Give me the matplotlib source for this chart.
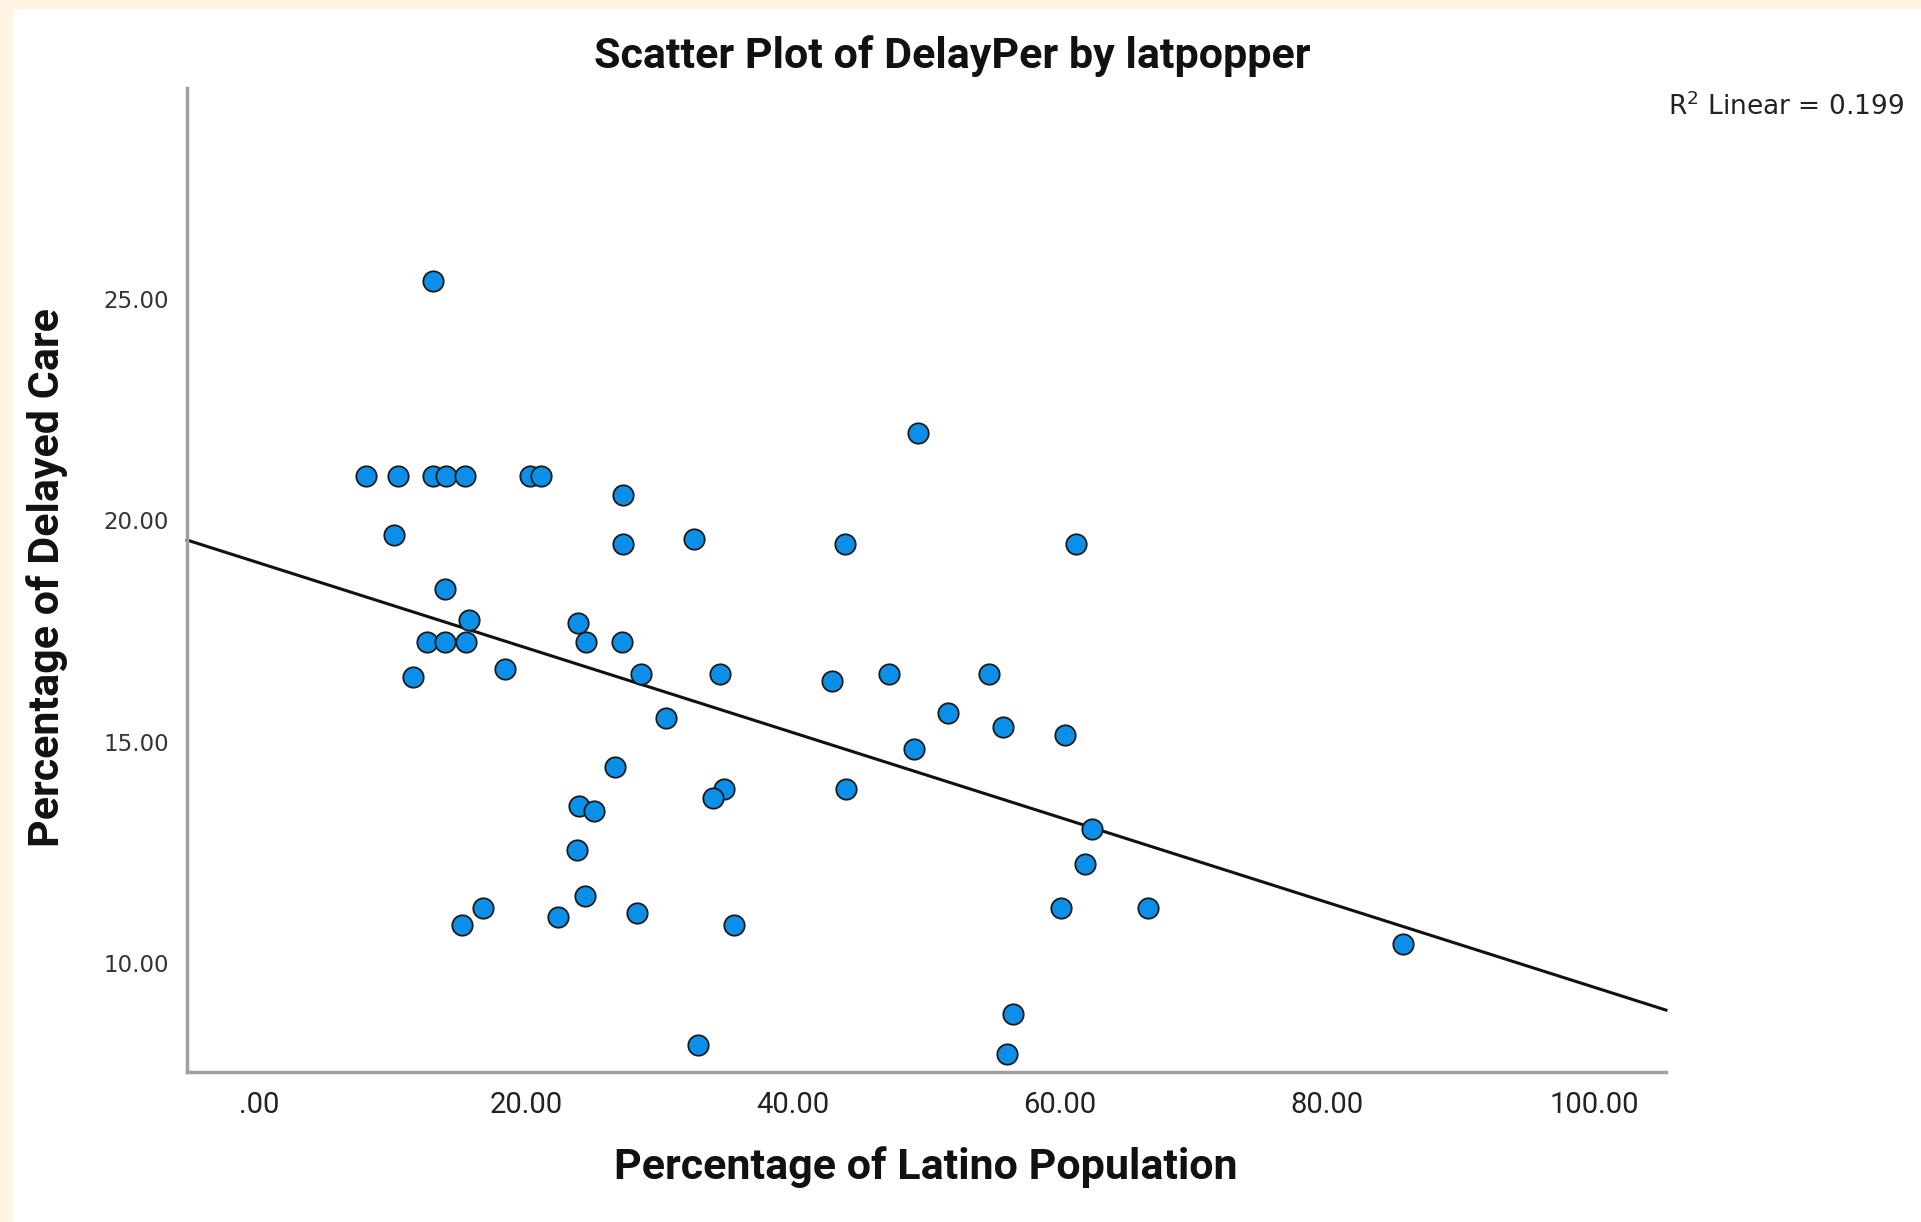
import numpy as np
import matplotlib
matplotlib.use("Agg")
import matplotlib.pyplot as plt
from matplotlib.patches import Rectangle

# === Data: latino population % vs delayed care % ===
latpop = [8.0, 10.4, 13.0, 13.0, 14.0, 15.4, 20.3, 21.1,
          10.1, 27.3, 27.3, 32.6, 43.9, 61.2, 49.4,
          13.9, 15.7, 23.9, 12.6, 13.9, 15.5, 24.5, 27.2,
          11.5, 18.4, 28.6, 34.5, 42.9, 47.2, 54.7,
          30.5, 51.6, 55.7, 60.4, 49.1, 26.7, 34.8, 34.0, 44.0,
          24.0, 25.1, 62.4, 23.8, 61.9, 24.4, 16.8, 15.2, 22.4,
          28.3, 35.6, 60.1, 66.6, 85.7, 56.5, 32.9, 56.0]
delayper = [21.0, 21.0, 25.4, 21.0, 21.0, 21.0, 21.0, 21.0,
            19.66, 20.57, 19.46, 19.57, 19.46, 19.46, 21.96,
            18.44, 17.75, 17.67, 17.25, 17.25, 17.25, 17.25, 17.25,
            16.45, 16.64, 16.53, 16.53, 16.36, 16.53, 16.53,
            15.53, 15.64, 15.34, 15.15, 14.84, 14.43, 13.93, 13.73, 13.93,
            13.54, 13.43, 13.02, 12.55, 12.24, 11.52, 11.24, 10.86, 11.05,
            11.13, 10.86, 11.24, 11.24, 10.44, 8.84, 8.14, 7.95]

x_ticks = [0, 20, 40, 60, 80, 100]
y_ticks = [10, 15, 20, 25]
r2_label = 0.199

xlim = (-5.4, 105.4)
ylim = (7.54, 29.76)

W, H = 1921, 1222
fig = plt.figure(figsize=(W / 100, H / 100), dpi=100)
fig.patch.set_facecolor("white")

# cream border strips on the left and top
fig.patches.append(Rectangle((0, 0), 12 / W, 1, transform=fig.transFigure,
                             color="#fff3e1", zorder=0))
fig.patches.append(Rectangle((0, 1 - 8 / H), 1, 8 / H, transform=fig.transFigure,
                             color="#fff3e1", zorder=0))

ax = fig.add_axes([187 / W, 150 / H, (1666 - 187) / W, (1134 - 150) / H])
ax.set_xlim(*xlim)
ax.set_ylim(*ylim)

x = np.array(latpop)
y = np.array(delayper)

# fit line
slope, intercept = np.polyfit(x, y, 1)
xx = np.array(xlim)
ax.plot(xx, intercept + slope * xx, color="#111111", lw=2.2, zorder=2,
        clip_on=False)

ax.scatter(x, y, s=215, c="#0b8fe8", edgecolors="#1a1a1a", linewidths=1.3,
           zorder=3, clip_on=False)

for side in ["top", "right"]:
    ax.spines[side].set_visible(False)
for side in ["left", "bottom"]:
    ax.spines[side].set_color("#a0a0a0")
    ax.spines[side].set_linewidth(2.5)

cond = ["Roboto", "DejaVu Sans"]

ax.set_xticks(x_ticks)
ax.set_xticklabels([".00" if v == 0 else f"{v:.2f}" for v in x_ticks],
                   family=cond, fontsize=21, color="#222222")
ax.set_yticks(y_ticks)
ax.set_yticklabels([f"{v:.2f}" for v in y_ticks],
                   family="DejaVu Sans", fontsize=16.5, color="#333333")
ax.tick_params(axis="both", length=0)
ax.tick_params(axis="x", pad=14)
ax.tick_params(axis="y", pad=13)

fig.text(952 / W, 1 - 56 / H, "Scatter Plot of DelayPer by latpopper",
         family=cond, fontweight="bold", fontsize=31, ha="center",
         va="center", color="#111111")
fig.text(926 / W, 1 - 1167 / H, "Percentage of Latino Population",
         family=cond, fontweight="bold", fontsize=31, ha="center",
         va="center", color="#111111")
fig.text(47 / W, 1 - 578 / H, "Percentage of Delayed Care",
         family=cond, fontweight="bold", fontsize=31, ha="center",
         va="center", rotation=90, color="#111111")
fig.text(1668 / W, 1 - 107 / H, f"R$^2$ Linear = {r2_label}",
         family="DejaVu Sans", fontsize=19, ha="left", va="center",
         color="#222222")

fig.savefig("out.png", dpi=100)
